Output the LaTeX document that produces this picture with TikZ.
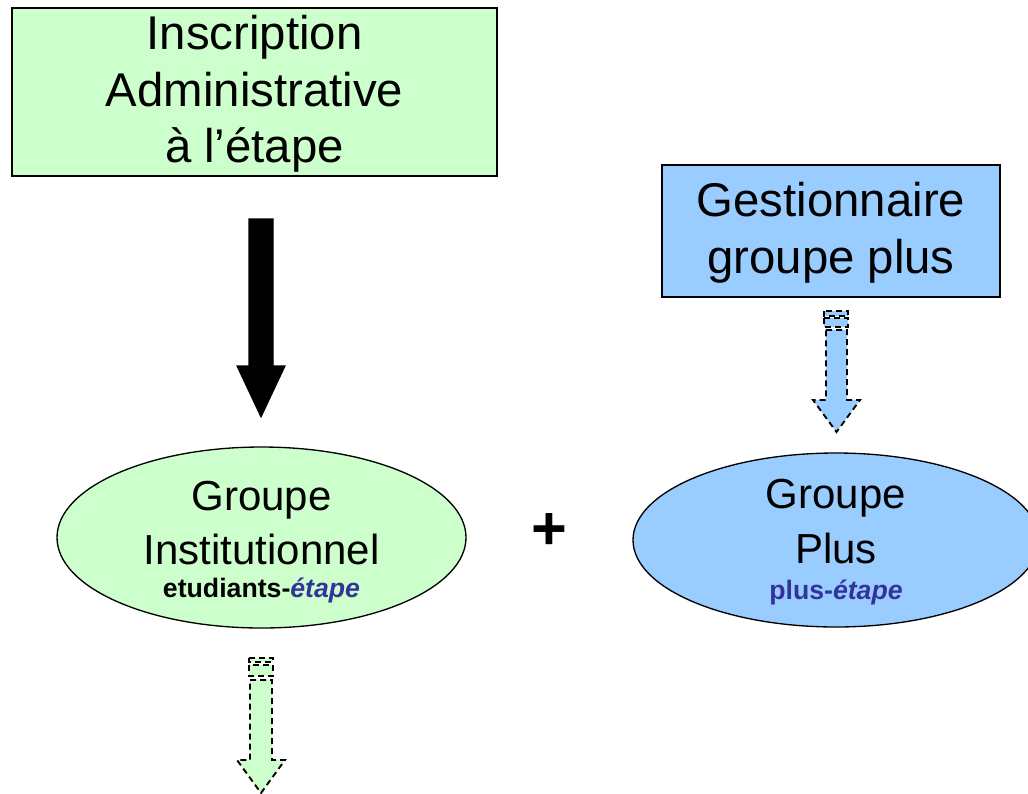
\documentclass[tikz,border=0pt]{standalone}
\usepackage{fontspec}
\setmainfont{Liberation Sans}
\usetikzlibrary{shapes.geometric}
\definecolor{lgreen}{HTML}{CCFFCC}
\definecolor{lblue}{HTML}{99CCFF}
\definecolor{tblue}{HTML}{333399}
\tikzset{
  boxA/.style={draw=black,line width=1pt,inner sep=0pt},
  ellA/.style={ellipse,draw=black,line width=1pt,inner sep=0pt},
  bigtxt/.style={align=center,font=\fontsize{35.5}{42.5}\selectfont},
  midtxt/.style={font=\fontsize{31.5}{37}\selectfont},
  smalltxt/.style={font=\fontsize{20}{24}\selectfont\bfseries},
  dasharrow/.style={draw=black,line width=1.4pt,dash pattern=on 4.5pt off 3pt},
  blockarrow/.style={fill=black,draw=black,line width=0.8pt}
}
\begin{document}
\begin{tikzpicture}[x=0.75pt,y=-0.75pt]
\useasboundingbox (0,0) rectangle (1028,793);
% top boxes
\node[boxA,fill=lgreen,minimum width=485*0.75pt,minimum height=168*0.75pt] (ia) at (254.5,92) {};
\node[bigtxt] (iat) at (254.5,94) {Inscription\\Administrative\\à l’étape};
\node[boxA,fill=lblue,minimum width=338*0.75pt,minimum height=132*0.75pt] (gp) at (831,231) {};
\node[bigtxt] (gpt) at (831,233) {Gestionnaire\\groupe plus};
% ellipses
\node[ellA,fill=lgreen,minimum width=409*0.75pt,minimum height=181*0.75pt] (gi) at (261.5,537.5) {};
\node[midtxt] (gi1) at (261.5,500) {Groupe};
\node[midtxt] (gi2) at (261.5,549) {Institutionnel};
\node[smalltxt] (gi3) at (261.5,590) {etudiants-\textcolor{tblue}{\itshape étape}};
\node[ellA,fill=lblue,minimum width=406*0.75pt,minimum height=174*0.75pt] (gpl) at (836,540) {};
\node[midtxt] (gp1) at (836,498) {Groupe};
\node[midtxt] (gp2) at (836,548) {Plus};
\node[smalltxt,text=tblue] (gp3) at (836,592) {plus-\textit{étape}};
% plus sign
\node[font=\fontsize{46}{50}\selectfont\bfseries] (plus) at (549,531.5) {+};
% black block arrow
\path[blockarrow] (249,219) -- (273,219) -- (273,366) -- (285,366) -- (261,417) -- (237,366) -- (249,366) -- cycle;
% blue dashed striped arrow
\path[dasharrow,fill=lblue] (824,311) rectangle (848,316);
\path[dasharrow,fill=lblue] (824,318) rectangle (848,327);
\path[dasharrow,fill=lblue] (826,330) -- (847,330) -- (847,400) -- (860,400) -- (836.5,432) -- (813,400) -- (826,400) -- cycle;
% green dashed striped arrow
\path[dasharrow,fill=lgreen] (249,658) rectangle (273,662);
\path[dasharrow,fill=lgreen] (249,665) rectangle (273,676);
\path[dasharrow,fill=lgreen] (250,680) -- (272,680) -- (272,760) -- (285,760) -- (261,793) -- (237,760) -- (250,760) -- cycle;
\end{tikzpicture}
\end{document}
